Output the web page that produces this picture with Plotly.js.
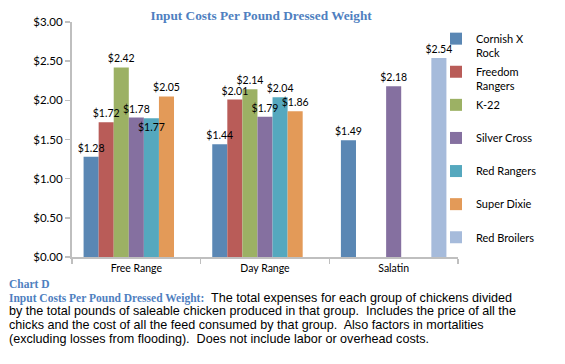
<!DOCTYPE html>
<html>
<head>
<meta charset="utf-8">
<script src="https://cdn.plot.ly/plotly-3.0.1.min.js"></script>
<style>
html,body{margin:0;padding:0;background:#fff;}
#chart{width:565px;height:364px;}
</style>
</head>
<body>
<div id="chart"></div>
<script>
const categories = ["Free Range", "Day Range", "Salatin"];
const seriesNames = ["Cornish X<br>Rock", "Freedom<br>Rangers", "K-22<br> ", "Silver Cross<br> ", "Red Rangers<br> ", "Super Dixie<br> ", "Red Broilers<br> "];
const cornishXRock   = [1.28, 1.44, 1.49];
const freedomRangers = [1.72, 2.01, null];
const k22            = [2.42, 2.14, null];
const silverCross    = [1.78, 1.79, 2.18];
const redRangers     = [1.77, 2.04, null];
const superDixie     = [2.05, 1.86, null];
const redBroilers    = [null, null, 2.54];
const yTickVals = [0, 0.5, 1, 1.5, 2, 2.5, 3];

const allSeries = [cornishXRock, freedomRangers, k22, silverCross, redRangers, superDixie, redBroilers];
const colors = ["#5A87B4", "#B95C58", "#9CB164", "#8570A0", "#55A8BE", "#E39A58", "#A6BBDB"];
const labelFont = {family: "Lato, sans-serif", size: 10.5, color: "#000"};

// coloured bars (no text)
const barTraces = allSeries.map((vals, i) => ({
  type: "bar",
  name: seriesNames[i],
  x: categories,
  y: vals,
  marker: {color: colors[i], line: {width: 0}},
  legendgroup: "g" + i,
  hoverinfo: "none",
  xaxis: "x", yaxis: "y"
}));

// transparent copies on an overlaid axis pair, carrying the value labels on top
const labelTraces = allSeries.map((vals, i) => {
  const positions = vals.map(() => "outside");
  if (i === 4) positions[0] = "inside";
  return {
    type: "bar",
    name: seriesNames[i],
    x: categories,
    y: vals,
    text: vals.map(v => v == null ? "" : "$" + v.toFixed(2)),
    textposition: positions,
    insidetextanchor: "end",
    textangle: 0,
    constraintext: "none",
    cliponaxis: false,
    textfont: labelFont,
    insidetextfont: labelFont,
    outsidetextfont: labelFont,
    marker: {color: "rgba(0,0,0,0)", line: {width: 0}},
    showlegend: false,
    hoverinfo: "none",
    xaxis: "x2", yaxis: "y2"
  };
});

const P = y => (257 - y) / 235;
const capX = (7 - 72) / 386;
const blue = "#4F7FBF";
const cam = "font-family:'Liberation Serif',serif;font-weight:bold;font-size:11.5px;color:" + blue;
const bodyFont = {family: "'Liberation Sans', Arial, sans-serif", size: 12.6, color: "#000"};

const caption = [
  {text: "<span style=\"" + cam + "\">Chart D</span>", y: 284},
  {text: "<span style=\"" + cam + "\">Input Costs Per Pound Dressed Weight:</span>  The total expenses for each group of chickens divided", y: 297.5},
  {text: "by the total pounds of saleable chicken produced in that group.  Includes the price of all the", y: 311},
  {text: "chicks and the cost of all the feed consumed by that group.  Also factors in mortalities", y: 324.5},
  {text: "(excluding losses from flooding).  Does not include labor or overhead costs.", y: 338.5}
];

const axisCommon = {
  ticks: "outside", ticklen: 5, tickwidth: 1.5, tickcolor: "#BFBFBF",
  showline: true, linecolor: "#BFBFBF", linewidth: 2,
  showgrid: false, zeroline: false, fixedrange: true
};

const layout = {
  width: 565, height: 364,
  margin: {l: 72, r: 107, t: 22, b: 107, pad: 0},
  paper_bgcolor: "#fff", plot_bgcolor: "#fff",
  showlegend: true,
  barmode: "group",
  bargap: 0.18, bargroupgap: 0,
  title: {
    text: "Input Costs Per Pound Dressed Weight",
    font: {family: "'Liberation Serif', serif", size: 13.3, weight: 700, color: blue},
    x: 0.49, xref: "paper", xanchor: "center",
    y: 1 - 15 / 364, yref: "container", yanchor: "middle"
  },
  xaxis: Object.assign({}, axisCommon, {
    type: "category",
    range: [-0.5, 2.5],
    tickson: "boundaries",
    tickfont: {family: "Lato, sans-serif", size: 10.5, color: "#000"}
  }),
  yaxis: Object.assign({}, axisCommon, {
    range: [0, 3],
    tickvals: yTickVals,
    tickformat: "$.2f",
    tickfont: {family: "Lato, sans-serif", size: 11.5, color: "#000"}
  }),
  xaxis2: {type: "category", range: [-0.5, 2.5], overlaying: "x", visible: false, fixedrange: true},
  yaxis2: {range: [0, 3], overlaying: "y", visible: false, fixedrange: true},
  legend: {
    x: 1 - 22 / 386, xanchor: "left", y: 1 - 3 / 235, yanchor: "top",
    font: {family: "Lato, sans-serif", size: 11, color: "#000"},
    valign: "top",
    traceorder: "grouped",
    tracegroupgap: 1.5,
    itemwidth: 30,
    bgcolor: "rgba(0,0,0,0)",
    borderwidth: 0
  },
  annotations: caption.map(c => ({
    text: c.text, xref: "paper", yref: "paper",
    x: capX, y: P(c.y), xanchor: "left", yanchor: "middle",
    align: "left", showarrow: false, font: bodyFont
  }))
};

Plotly.newPlot("chart", barTraces.concat(labelTraces), layout, {displayModeBar: false, staticPlot: true});
</script>
</body>
</html>
